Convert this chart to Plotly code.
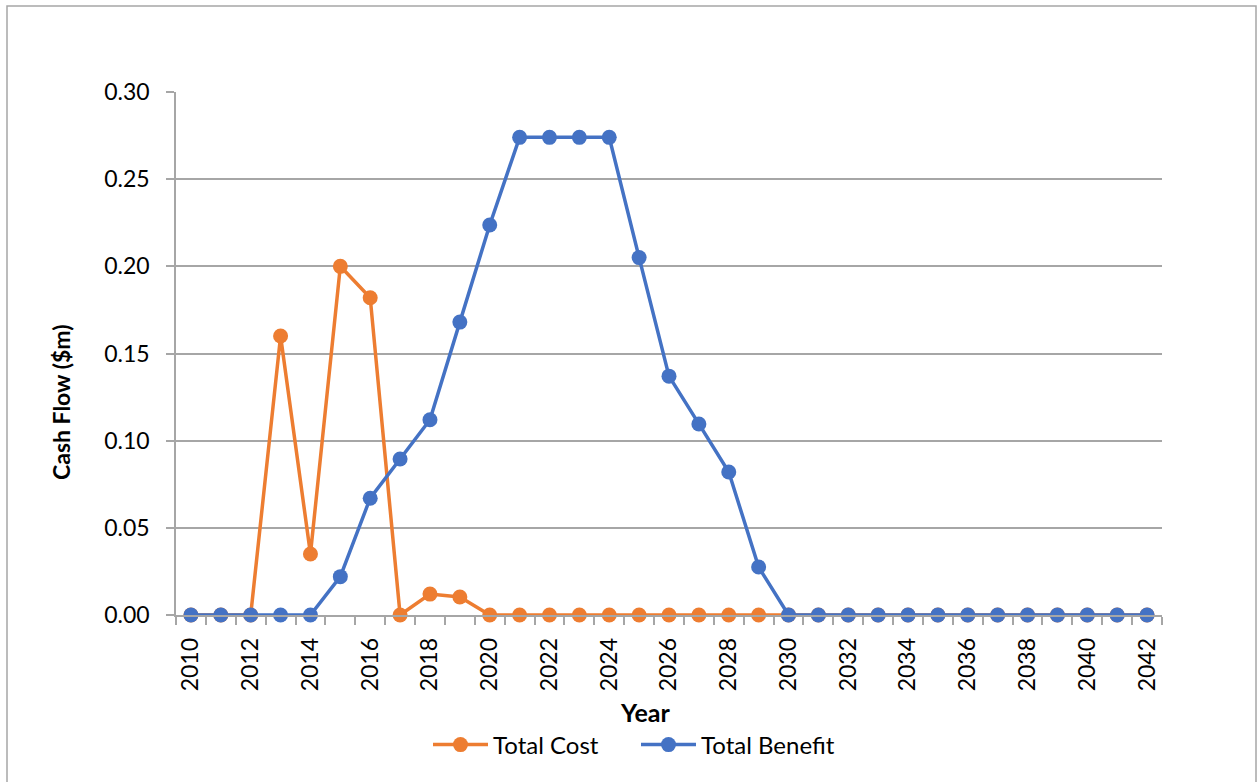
import plotly.graph_objects as go

years = list(range(2010, 2043))
total_cost = [0, 0, 0, 0.160, 0.035, 0.200, 0.182, 0, 0.012, 0.0103,
              0, 0, 0, 0, 0, 0, 0, 0, 0, 0,
              0, 0, 0, 0, 0, 0, 0, 0, 0, 0,
              0, 0, 0]
total_benefit = [0, 0, 0, 0, 0, 0.022, 0.067, 0.0895, 0.112, 0.168,
                 0.2237, 0.274, 0.274, 0.274, 0.274, 0.205, 0.137, 0.1096, 0.082, 0.0275,
                 0, 0, 0, 0, 0, 0, 0, 0, 0, 0,
                 0, 0, 0]
tick_years = list(range(2010, 2043, 2))
y_ticks = [0, 0.05, 0.10, 0.15, 0.20, 0.25, 0.30]

ORANGE = "#ED7D31"
BLUE = "#4472C4"
GRID = "#a6a6a6"
FONT = "Lato"

# plot area in pixels (for the paper-coordinate frame)
L, R, T, B = 176, 98, 92, 167
W, H = 1260, 782
pw, ph = W - L - R, H - T - B


def px_x(x):
    return (x - L) / pw


def px_y(y):
    return (H - B - y) / ph


fig = go.Figure()
fig.add_trace(go.Scatter(
    x=years, y=total_cost, name="Total Cost", mode="lines+markers",
    line=dict(color=ORANGE, width=3.5), marker=dict(color=ORANGE, size=15),
    cliponaxis=False,
))
fig.add_trace(go.Scatter(
    x=years, y=total_benefit, name="Total Benefit", mode="lines+markers",
    line=dict(color=BLUE, width=3.5), marker=dict(color=BLUE, size=15),
    cliponaxis=False,
))

fig.update_layout(
    width=W, height=H,
    margin=dict(l=L, r=R, t=T, b=B),
    paper_bgcolor="white", plot_bgcolor="white",
    font=dict(family=FONT, color="black", size=24),
    showlegend=True,
    legend=dict(
        orientation="h", x=px_x(636), xanchor="center",
        y=px_y(745), yanchor="middle",
        font=dict(family=FONT, size=24), itemwidth=55,
        entrywidth=138, entrywidthmode="pixels",
        bgcolor="rgba(0,0,0,0)",
    ),
    xaxis=dict(
        range=[2009.5, 2042.5],
        tickmode="array", tickvals=tick_years, ticktext=[str(y) for y in tick_years],
        tickangle=-90, tickfont=dict(family=FONT, size=23),
        ticks="outside", ticklen=8, tickcolor="rgba(0,0,0,0)",
        ticklabelstandoff=4,
        minor=dict(tick0=2009.5, dtick=1, ticks="outside", ticklen=8,
                   tickcolor=GRID, tickwidth=1.5, showgrid=False),
        showgrid=False, zeroline=False,
        showline=True, linecolor=GRID, linewidth=1.5,
    ),
    yaxis=dict(
        range=[0, 0.30],
        tickmode="array", tickvals=y_ticks, ticktext=[f"{v:.2f}" for v in y_ticks],
        tickfont=dict(family=FONT, size=23),
        ticks="outside", ticklen=8, tickcolor=GRID, tickwidth=1.5,
        ticklabelstandoff=12,
        showgrid=True, gridcolor=GRID, gridwidth=1.5,
        zeroline=False,
        showline=True, linecolor=GRID, linewidth=1.5,
    ),
    annotations=[
        dict(text="<b>Cash Flow ($m)</b>", textangle=-90, showarrow=False,
             xref="paper", yref="paper", x=px_x(61), y=px_y(402),
             xanchor="center", yanchor="middle",
             font=dict(family=FONT, size=23, color="black")),
        dict(text="<b>Year</b>", showarrow=False,
             xref="paper", yref="paper", x=px_x(645), y=px_y(712),
             xanchor="center", yanchor="middle",
             font=dict(family=FONT, size=25, color="black")),
    ],
    shapes=[
        dict(type="rect", xref="paper", yref="paper", layer="below",
             x0=px_x(7), x1=px_x(1256), y0=px_y(795), y1=px_y(6),
             line=dict(color=GRID, width=1.5), fillcolor="rgba(0,0,0,0)"),
    ],
)

fig.write_html("out.html")
